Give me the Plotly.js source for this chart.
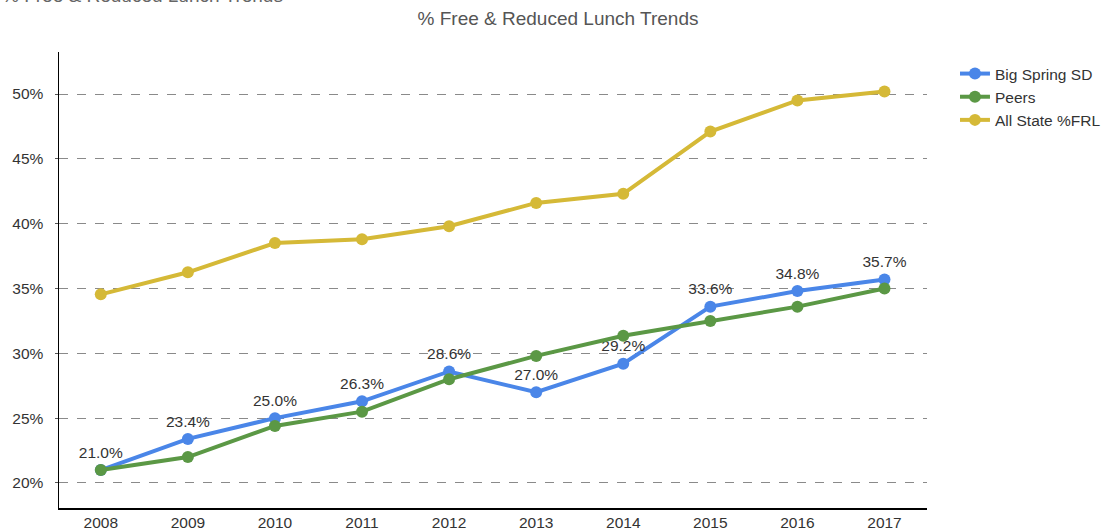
<!DOCTYPE html>
<html>
<head>
<meta charset="utf-8">
<script src="https://cdn.plot.ly/plotly-3.0.1.min.js"></script>
<style>html,body{margin:0;padding:0;background:#fff;}#chart{width:1112px;height:530px;}</style>
</head>
<body>
<div id="chart"></div>
<script>
const years = ["2008","2009","2010","2011","2012","2013","2014","2015","2016","2017"];
const bigSpring = [21.0, 23.4, 25.0, 26.3, 28.6, 27.0, 29.2, 33.6, 34.8, 35.7];
const peers = [21.0, 22.0, 24.4, 25.5, 28.0, 29.8, 31.35, 32.5, 33.6, 35.0];
const allState = [34.55, 36.25, 38.5, 38.8, 39.8, 41.6, 42.3, 47.1, 49.5, 50.2];
const bigSpringLabels = bigSpring.map(v => v.toFixed(1) + "%");
const yTickVals = [20, 25, 30, 35, 40, 45, 50];
const yTickText = ["20%", "25%", "30%", "35%", "40%", "45%", "50%"];
const titleText = "% Free & Reduced Lunch Trends";

const fontFam = "'Liberation Sans', Arial, sans-serif";
const common = {type: "scatter", mode: "lines+markers", x: years, cliponaxis: false};

const data = [
  Object.assign({}, common, {name: "Big Spring SD", y: bigSpring, mode: "lines+markers+text", text: bigSpringLabels, textposition: "top center", textfont: {family: fontFam, size: 15.5, color: "#333"}, line: {width: 4, color: "#4a86e8"}, marker: {size: 12, color: "#4a86e8"}, legendrank: 1}),
  Object.assign({}, common, {name: "Peers", y: peers, line: {width: 4, color: "#5b9845"}, marker: {size: 12, color: "#5b9845"}, legendrank: 2}),
  Object.assign({}, common, {name: "All State %FRL", y: allState, line: {width: 4, color: "#d5b937"}, marker: {size: 12, color: "#d5b937"}, legendrank: 3})
];

const plotW = 1112 - 59 - 6;
const layout = {
  width: 1112, height: 530,
  margin: {l: 59, r: 6, t: 52, b: 22},
  paper_bgcolor: "#fff", plot_bgcolor: "#fff",
  font: {family: fontFam, size: 15.5, color: "#333"},
  title: {text: titleText, font: {family: fontFam, size: 19, color: "#555"}, x: 558/1112, xref: "container", xanchor: "center", y: 1 - 18/530, yref: "container", yanchor: "middle"},
  xaxis: {type: "category", domain: [0, 874/plotW], range: [-0.48, 9.49], showgrid: false, zeroline: false, showline: true, linecolor: "#000", linewidth: 1.5, ticks: "", tickfont: {family: fontFam, size: 15.5, color: "#333"}, fixedrange: true},
  yaxis: {range: [18.07, 53.24], tickvals: yTickVals, ticktext: yTickText, showgrid: true, gridcolor: "#8a8a8a", griddash: "dash", gridwidth: 1, zeroline: false, showline: true, linecolor: "#000", linewidth: 1.5, ticks: "outside", ticklen: 3, tickcolor: "#555", ticklabelstandoff: 8, tickfont: {family: fontFam, size: 15.5, color: "#333"}, fixedrange: true},
  legend: {x: (961 - 59)/plotW, y: (508 - 57)/456, xanchor: "left", yanchor: "top", traceorder: "normal", font: {family: fontFam, size: 15.5, color: "#333"}, itemwidth: 30, tracegroupgap: 0, bgcolor: "rgba(0,0,0,0)"},
  showlegend: true,
  annotations: [{text: titleText, xref: "paper", yref: "paper", x: -59/plotW, y: (508 - 8)/456, xanchor: "left", yanchor: "bottom", showarrow: false, font: {family: fontFam, size: 19, color: "#666"}}]
};

Plotly.newPlot("chart", data, layout, {displayModeBar: false, staticPlot: true});
</script>
</body>
</html>
